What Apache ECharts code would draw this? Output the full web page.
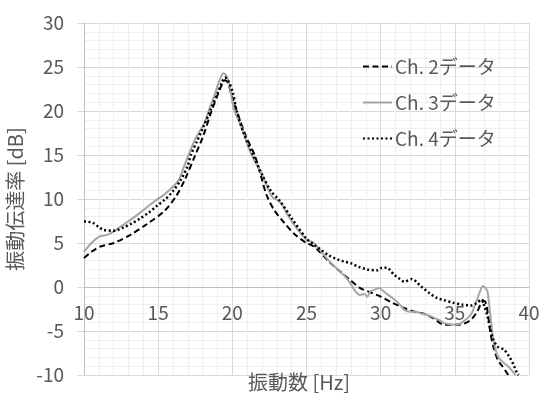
<!DOCTYPE html>
<html>
<head>
<meta charset="utf-8">
<script src="https://cdn.jsdelivr.net/npm/echarts@6/dist/echarts.min.js"></script>
<style>
  html, body { margin: 0; padding: 0; background: #fff; }
  #chart { width: 541px; height: 394px; }
</style>
</head>
<body>
<div id="chart"></div>
<script>
// 周波数 [Hz] と各チャンネルの伝達率 [dB]
const seriesNames = ['Ch. 2データ', 'Ch. 3データ', 'Ch. 4データ'];

const freq2 = [10, 10.5, 11.1, 12, 13.1, 14.2, 15.4, 16.2, 16.8, 17.5, 18, 18.6, 19, 19.3, 19.5, 19.7, 20, 20.4, 20.9, 21.5, 21.9, 22.3, 22.8, 23.5, 24.2, 25, 25.5, 26, 26.5, 27.1, 27.8, 28.6, 29.3, 30, 30.8, 31.6, 32.3, 33, 33.6, 34.3, 35.2, 35.7, 36.1, 36.5, 36.8, 37, 37.15, 37.4, 37.6, 37.9, 38.2, 38.6];
const ch2 = [3.3, 4.0, 4.6, 5.0, 5.9, 7.1, 8.6, 10.3, 12.2, 15.0, 17.0, 20.0, 21.8, 23.0, 23.5, 23.2, 21.5, 19.5, 17.2, 15.0, 12.8, 10.5, 8.8, 7.3, 6.0, 5.0, 4.6, 3.8, 2.9, 2.0, 1.0, -0.1, -0.6, -1.1, -1.8, -2.4, -2.8, -3.1, -3.6, -4.3, -4.3, -4.1, -3.7, -2.8, -1.8, -1.6, -2.2, -5.2, -6.8, -8.3, -9.0, -10];

const freq3 = [10, 10.5, 11, 11.5, 12, 12.5, 13.1, 13.6, 14.2, 14.8, 15.4, 16, 16.4, 16.7, 17.05, 17.5, 18.1, 18.4, 18.8, 19.1, 19.4, 19.6, 19.8, 20.1, 20.65, 21.3, 22, 22.65, 23, 23.3, 23.7, 24.2, 25, 25.5, 26, 26.5, 27.1, 27.6, 28, 28.3, 28.6, 28.9, 29.1, 29.3, 29.6, 29.9, 30.2, 30.5, 30.9, 31.3, 31.6, 32, 32.4, 32.7, 33.2, 33.6, 34, 34.3, 34.9, 35.3, 35.6, 36.1, 36.3, 36.5, 36.7, 36.9, 37.05, 37.2, 37.4, 37.6, 37.9, 38.3, 38.7, 39, 39.1];
const ch3 = [4.0, 5.0, 5.7, 5.9, 6.3, 6.9, 7.6, 8.2, 9.0, 9.8, 10.5, 11.4, 12.2, 13.5, 15.0, 16.8, 18.6, 20.0, 21.8, 23.3, 24.3, 24.0, 23.0, 20.3, 18.0, 15.0, 12.8, 10.3, 9.9, 9.5, 8.3, 7.0, 5.4, 5.0, 4.0, 3.0, 2.0, 1.2, 0.3, -0.5, -0.9, -0.8, -1.1, -0.5, -0.3, -0.1, -0.5, -0.9, -1.4, -2.0, -2.6, -2.8, -2.8, -3.0, -3.2, -3.5, -3.8, -4.1, -4.3, -4.2, -3.9, -3.1, -2.3, -1.4, -0.5, 0.1, -0.1, -0.5, -3.3, -6.0, -7.9, -8.6, -9.2, -9.8, -10];

const freq4 = [10, 10.3, 10.6, 11, 11.3, 11.9, 12.3, 12.7, 13.2, 13.8, 14.4, 14.9, 15.5, 16, 16.5, 17, 17.2, 17.6, 18, 18.5, 19, 19.3, 19.5, 19.7, 20, 20.3, 20.8, 21.4, 22, 22.6, 23.2, 24, 25, 25.5, 26, 26.5, 27, 27.5, 28, 28.5, 29.1, 29.8, 30.1, 30.4, 30.9, 31.3, 31.6, 32.1, 32.4, 32.7, 33.3, 33.8, 34.3, 34.9, 35.5, 36.1, 36.5, 36.8, 37, 37.2, 37.4, 37.6, 37.9, 38.3, 38.7, 39, 39.2, 39.3];
const ch4 = [7.45, 7.4, 7.3, 6.8, 6.5, 6.4, 6.5, 6.8, 7.2, 7.8, 8.5, 9.2, 10.0, 10.9, 12.1, 13.8, 15.0, 16.5, 18.0, 20.0, 22.0, 23.2, 23.8, 23.5, 22.3, 20.0, 17.3, 15.0, 12.8, 10.9, 9.8, 7.8, 5.5, 4.8, 4.2, 3.6, 3.2, 2.9, 2.7, 2.3, 2.0, 1.9, 2.2, 2.2, 1.4, 0.9, 0.6, 0.9, 0.6, 0.1, -0.7, -1.25, -1.5, -1.8, -2.0, -2.1, -1.8, -1.4, -2.2, -3.3, -4.8, -6.0, -6.8, -7.1, -8.0, -9.0, -9.8, -10];

const pairs = (xs, ys) => xs.map((x, i) => [x, ys[i]]);

const FONT = '"Noto Sans CJK JP", "Noto Sans", sans-serif';
const TEXT = '#595959';

const chart = echarts.init(document.getElementById('chart'));

const lineSeries = (name, data, color, type, width) => ({
    name: name,
    type: 'line',
    data: data,
    symbol: 'none',
    smooth: 0.3,
    lineStyle: { color: color, width: width, type: type },
    itemStyle: { color: color }
});

chart.setOption({
    animation: false,
    textStyle: { fontFamily: FONT },
    grid: { left: 84, right: 12, top: 23, bottom: 19, containLabel: false, outerBoundsMode: 'none' },
    legend: {
        orient: 'vertical',
        left: 357,
        top: 52,
        itemGap: 17,
        itemWidth: 29,
        itemHeight: 14,
        itemStyle: { opacity: 0 },
        textStyle: { color: TEXT, fontSize: 19, fontFamily: FONT, padding: [0, 0, 0, -2] },
        data: seriesNames
    },
    xAxis: {
        type: 'value',
        min: 10,
        max: 40,
        interval: 5,
        position: 'bottom',
        offset: -88, // 横軸を 0 dB の位置に
        name: '振動数 [Hz]',
        nameLocation: 'middle',
        nameGap: 85,
        nameTextStyle: { color: TEXT, fontSize: 20, padding: [0, 15, 0, 0] },
        axisLine: { onZero: false, lineStyle: { color: '#bfbfbf', width: 1 } },
        axisTick: { show: false },
        axisLabel: { color: TEXT, fontSize: 19, margin: 16 },
        splitLine: { show: true, lineStyle: { color: '#d9d9d9', width: 1 } },
        minorTick: { show: false, splitNumber: 5 },
        minorSplitLine: { show: true, lineStyle: { color: '#efefef', width: 1 } }
    },
    yAxis: {
        type: 'value',
        min: -10,
        max: 30,
        interval: 5,
        name: '振動伝達率 [dB]',
        nameLocation: 'middle',
        nameGap: 49,
        nameTextStyle: { color: TEXT, fontSize: 20 },
        axisLine: { show: true, lineStyle: { color: '#bfbfbf', width: 1 } },
        axisTick: { show: true, length: 7, lineStyle: { color: '#d9d9d9' } },
        axisLabel: { color: TEXT, fontSize: 19, margin: 20 },
        splitLine: { show: true, lineStyle: { color: '#d9d9d9', width: 1 } },
        minorTick: { show: false, splitNumber: 5 },
        minorSplitLine: { show: true, lineStyle: { color: '#efefef', width: 1 } }
    },
    series: [
        lineSeries(seriesNames[0], pairs(freq2, ch2), '#000000', [6, 3.5], 2),
        lineSeries(seriesNames[1], pairs(freq3, ch3), '#a5a5a5', 'solid', 2),
        lineSeries(seriesNames[2], pairs(freq4, ch4), '#000000', [2, 2.5], 2.5)
    ]
});
</script>
</body>
</html>
